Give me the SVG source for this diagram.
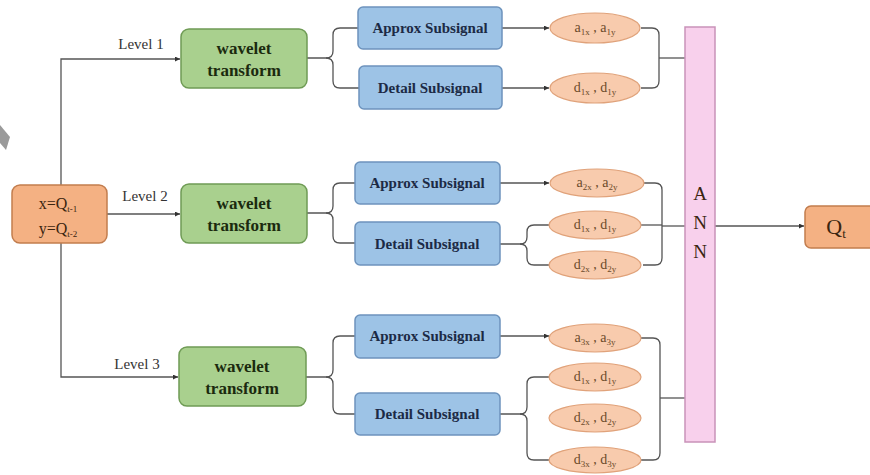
<svg xmlns="http://www.w3.org/2000/svg" width="870" height="475" viewBox="0 0 870 475">
<defs>
<marker id="ah" viewBox="0 0 6 6" refX="6" refY="3" markerWidth="5" markerHeight="5" orient="auto" markerUnits="userSpaceOnUse">
<path d="M0,0 L6,3 L0,6 z" fill="#333"/>
</marker>
<style>
.wt{fill:#a9d08e;stroke:#6f9b55;stroke-width:1.5}
.sb{fill:#9dc3e6;stroke:#6d93bd;stroke-width:1.5}
.el{fill:#f8cbad;stroke:#e0a27a;stroke-width:1.2}
.ob{fill:#f4b183;stroke:#c27d4e;stroke-width:1.5}
.ann{fill:#f8d0ec;stroke:#c993b9;stroke-width:1.5}
.wtt{font-family:"Liberation Serif",serif;font-weight:bold;font-size:17px;fill:#1b2a0e;text-anchor:middle}
.sbt{font-family:"Liberation Serif",serif;font-weight:bold;font-size:15px;fill:#1c2a45;text-anchor:middle}
.elt{font-family:"Liberation Serif",serif;font-size:14px;fill:#6b4a2a;text-anchor:middle}
.sub{font-size:9px}
.lv{font-family:"Liberation Serif",serif;font-size:15px;fill:#333;text-anchor:middle}
.ln{fill:none;stroke:#555;stroke-width:1.3}
.big{font-family:"Liberation Serif",serif;font-size:19px;fill:#3a2510;text-anchor:middle}
</style>
</defs>
<rect width="870" height="475" fill="#ffffff"/>
<polygon points="0,125 10,137 6,150 0,143" fill="#9a9a9a"/>

<g id="connectors">
<path class="ln" d="M61,214 V59 H180" marker-end="url(#ah)"/>
<path class="ln" d="M61,214 V377 H178" marker-end="url(#ah)"/>
<path class="ln" d="M107,214 H180" marker-end="url(#ah)"/>
<path class="ln" d="M307,58 H326 Q333,58 333,51 V35 Q333,28 340,28 H358"/>
<path class="ln" d="M326,58 Q333,58 333,65 V81 Q333,88 340,88 H359"/>
<path class="ln" d="M307,213 H326 Q333,213 333,206 V190 Q333,183 340,183 H355"/>
<path class="ln" d="M326,213 Q333,213 333,220 V236 Q333,243 340,243 H355"/>
<path class="ln" d="M306,377 H326 Q333,377 333,370 V343 Q333,336 340,336 H355"/>
<path class="ln" d="M326,377 Q333,377 333,384 V407 Q333,414 340,414 H355"/>
<path class="ln" d="M502,28 H549" marker-end="url(#ah)"/>
<path class="ln" d="M502,88 H549" marker-end="url(#ah)"/>
<path class="ln" d="M500,183 H549" marker-end="url(#ah)"/>
<path class="ln" d="M500,336 H549" marker-end="url(#ah)"/>
<path class="ln" d="M500,244 H520 Q527,244 527,237 V232 Q527,225 534,225 H550"/>
<path class="ln" d="M520,244 Q527,244 527,251 V258 Q527,265 534,265 H550"/>
<path class="ln" d="M500,414 H520 Q527,414 527,407 V384 Q527,377 534,377 H550"/>
<path class="ln" d="M520,414 Q527,414 527,421 V453 Q527,460 534,460 H550"/>
<path class="ln" d="M641,28 H652 Q659,28 659,35 V81 Q659,88 652,88 H641"/>
<path class="ln" d="M659,58 H685"/>
<path class="ln" d="M643,183 H655 Q662,183 662,190 V258 Q662,265 655,265 H643"/>
<path class="ln" d="M641,225 H662"/>
<path class="ln" d="M662,226 H685"/>
<path class="ln" d="M641,338 H653 Q660,338 660,345 V453 Q660,460 653,460 H641"/>
<path class="ln" d="M660,398 H685"/>
<path class="ln" d="M715,226 H804" marker-end="url(#ah)"/>
</g>

<g id="input">
<rect class="ob" x="12" y="185" width="95" height="58" rx="8"/>
<text class="big" x="58" y="209" style="font-size:16px">x=Q<tspan class="sub" dy="3">t-1</tspan></text>
<text class="big" x="58" y="234" style="font-size:16px">y=Q<tspan class="sub" dy="3">t-2</tspan></text>
</g>

<g id="labels">
<text class="lv" x="141" y="49">Level 1</text>
<text class="lv" x="145" y="201">Level 2</text>
<text class="lv" x="137" y="369">Level 3</text>
</g>

<g id="wt1"><rect class="wt" x="181" y="29" width="126" height="59" rx="8"/><text class="wtt" x="244" y="54">wavelet</text><text class="wtt" x="244" y="76">transform</text></g>
<g id="wt2"><rect class="wt" x="181" y="184" width="126" height="59" rx="8"/><text class="wtt" x="244" y="209">wavelet</text><text class="wtt" x="244" y="231">transform</text></g>
<g id="wt3"><rect class="wt" x="179" y="347" width="127" height="59" rx="8"/><text class="wtt" x="242" y="372">wavelet</text><text class="wtt" x="242" y="394">transform</text></g>

<g id="ap1"><rect class="sb" x="358" y="7" width="144" height="42" rx="5"/><text class="sbt" x="430" y="33">Approx Subsignal</text></g>
<g id="dt1"><rect class="sb" x="359" y="66" width="143" height="43" rx="5"/><text class="sbt" x="430" y="93">Detail Subsignal</text></g>
<g id="ap2"><rect class="sb" x="355" y="162" width="145" height="42" rx="5"/><text class="sbt" x="427" y="188">Approx Subsignal</text></g>
<g id="dt2"><rect class="sb" x="355" y="222" width="145" height="43" rx="5"/><text class="sbt" x="427" y="249">Detail Subsignal</text></g>
<g id="ap3"><rect class="sb" x="355" y="315" width="145" height="43" rx="5"/><text class="sbt" x="427" y="341">Approx Subsignal</text></g>
<g id="dt3"><rect class="sb" x="355" y="393" width="145" height="42" rx="5"/><text class="sbt" x="427" y="419">Detail Subsignal</text></g>

<g id="e_a1"><ellipse class="el" cx="595" cy="28" rx="45" ry="15"/><text class="elt" x="595" y="32">a<tspan class="sub" dy="3">1x</tspan><tspan dy="-3"> , a</tspan><tspan class="sub" dy="3">1y</tspan></text></g>
<g id="e_d1"><ellipse class="el" cx="595" cy="88" rx="45" ry="15"/><text class="elt" x="595" y="92">d<tspan class="sub" dy="3">1x</tspan><tspan dy="-3"> , d</tspan><tspan class="sub" dy="3">1y</tspan></text></g>
<g id="e_a2"><ellipse class="el" cx="597" cy="183" rx="47" ry="14"/><text class="elt" x="597" y="187">a<tspan class="sub" dy="3">2x</tspan><tspan dy="-3"> , a</tspan><tspan class="sub" dy="3">2y</tspan></text></g>
<g id="e_d21"><ellipse class="el" cx="595" cy="225" rx="46" ry="14"/><text class="elt" x="595" y="229">d<tspan class="sub" dy="3">1x</tspan><tspan dy="-3"> , d</tspan><tspan class="sub" dy="3">1y</tspan></text></g>
<g id="e_d22"><ellipse class="el" cx="595" cy="265" rx="46" ry="14"/><text class="elt" x="595" y="269">d<tspan class="sub" dy="3">2x</tspan><tspan dy="-3"> , d</tspan><tspan class="sub" dy="3">2y</tspan></text></g>
<g id="e_a3"><ellipse class="el" cx="595" cy="338" rx="46" ry="14"/><text class="elt" x="595" y="342">a<tspan class="sub" dy="3">3x</tspan><tspan dy="-3"> , a</tspan><tspan class="sub" dy="3">3y</tspan></text></g>
<g id="e_d31"><ellipse class="el" cx="595" cy="377" rx="46" ry="14"/><text class="elt" x="595" y="381">d<tspan class="sub" dy="3">1x</tspan><tspan dy="-3"> , d</tspan><tspan class="sub" dy="3">1y</tspan></text></g>
<g id="e_d32"><ellipse class="el" cx="595" cy="418" rx="46" ry="14"/><text class="elt" x="595" y="422">d<tspan class="sub" dy="3">2x</tspan><tspan dy="-3"> , d</tspan><tspan class="sub" dy="3">2y</tspan></text></g>
<g id="e_d33"><ellipse class="el" cx="595" cy="460" rx="46" ry="13"/><text class="elt" x="595" y="464">d<tspan class="sub" dy="3">3x</tspan><tspan dy="-3"> , d</tspan><tspan class="sub" dy="3">3y</tspan></text></g>

<g id="ann"><rect class="ann" x="685" y="27" width="30" height="415"/>
<text class="big" x="700" y="200">A</text><text class="big" x="700" y="229">N</text><text class="big" x="700" y="258">N</text></g>

<g id="qt"><rect class="ob" x="805" y="206" width="75" height="42" rx="6"/><text class="big" x="836" y="234" style="font-size:22px">Q<tspan class="sub" style="font-size:13px" dy="4">t</tspan></text></g>
</svg>
